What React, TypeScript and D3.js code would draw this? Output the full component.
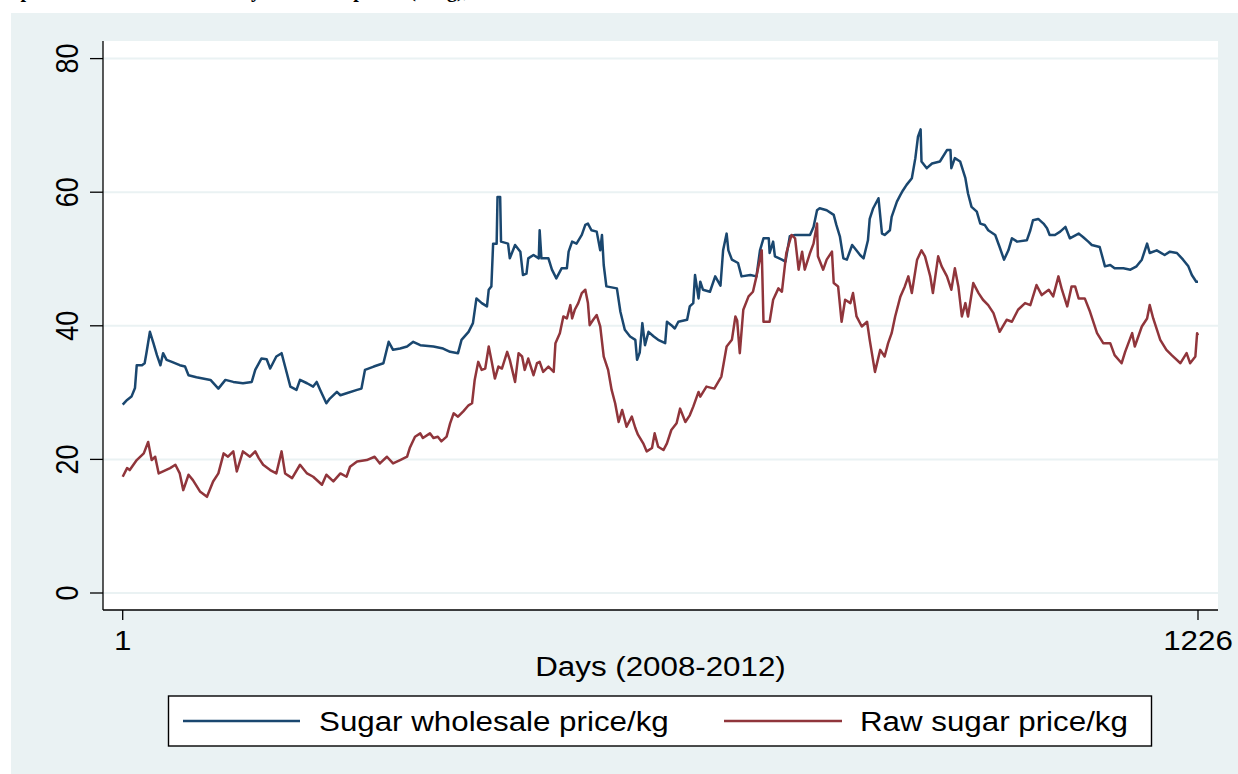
import React from "react";
import * as d3 from "d3";

// Daily prices, [day, price per kg]
const wholesale: [number, number][] = [
  [1, 28.2], [6, 28.9], [11, 29.4], [15, 30.7], [17, 34.1], [23, 34.1], [26, 34.4], [28, 35.9],
  [32, 39.1], [36, 37.4], [40, 35.6], [44, 34.1], [47, 35.9], [51, 34.9], [57, 34.6], [66, 34.1],
  [72, 33.9], [76, 32.6], [85, 32.3], [101, 31.9], [110, 30.6], [118, 31.9], [127, 31.6], [138, 31.4],
  [148, 31.6], [152, 33.4], [159, 35.1], [165, 35.0], [169, 33.6], [176, 35.4], [182, 35.9], [186, 33.9],
  [192, 30.9], [199, 30.4], [203, 31.9], [211, 31.4], [218, 30.9], [222, 31.6], [226, 30.4], [233, 28.4],
  [237, 29.1], [245, 30.1], [249, 29.6], [256, 29.9], [268, 30.4], [273, 30.6], [277, 33.4], [287, 33.9],
  [298, 34.4], [304, 37.6], [309, 36.4], [317, 36.6], [325, 36.9], [332, 37.6], [340, 37.1], [355, 36.9],
  [366, 36.6], [374, 36.1], [383, 35.9], [387, 37.9], [395, 39.1], [400, 40.4], [404, 44.1], [410, 43.4],
  [416, 42.9], [418, 45.4], [421, 45.9], [423, 52.3], [427, 52.3], [428, 59.3], [431, 59.3], [432, 52.6],
  [440, 52.3], [442, 50.1], [448, 52.1], [454, 51.1], [457, 47.6], [461, 47.8], [463, 50.1], [469, 50.6],
  [475, 50.1], [476, 54.3], [478, 50.1], [486, 50.1], [490, 48.4], [495, 47.1], [501, 48.6], [507, 48.6],
  [509, 51.1], [513, 52.6], [518, 52.3], [524, 53.6], [528, 55.1], [531, 55.3], [535, 54.3], [541, 54.1],
  [545, 51.3], [547, 53.6], [549, 49.1], [552, 45.9], [564, 45.6], [568, 42.1], [573, 39.4], [579, 38.4],
  [585, 37.9], [587, 34.9], [590, 36.0], [593, 40.4], [596, 37.1], [600, 39.1], [606, 38.4], [611, 37.9],
  [619, 37.4], [621, 40.6], [626, 40.1], [630, 39.6], [634, 40.6], [644, 40.9], [647, 42.9], [651, 43.4],
  [653, 47.6], [657, 44.1], [659, 46.6], [662, 45.4], [670, 45.1], [676, 47.4], [682, 46.0], [685, 51.3],
  [689, 53.8], [691, 51.3], [695, 49.9], [702, 49.4], [706, 47.4], [716, 47.6], [723, 47.4], [727, 51.3],
  [731, 53.1], [737, 53.1], [738, 50.9], [742, 52.6], [744, 50.4], [752, 49.9], [756, 49.6], [761, 53.4],
  [767, 53.6], [784, 53.6], [788, 54.8], [792, 57.3], [795, 57.6], [803, 57.3], [811, 56.6], [814, 55.1],
  [818, 53.4], [822, 50.1], [826, 49.9], [832, 52.1], [835, 51.6], [841, 50.6], [845, 50.1], [850, 52.8],
  [852, 56.0], [856, 57.6], [862, 59.1], [866, 53.8], [869, 53.6], [875, 54.3], [877, 56.3], [883, 58.6],
  [887, 59.6], [890, 60.3], [894, 61.1], [900, 62.1], [904, 65.1], [907, 68.3], [910, 69.4], [911, 64.6],
  [917, 63.6], [923, 64.3], [932, 64.6], [940, 66.3], [944, 66.3], [945, 63.6], [949, 65.1], [955, 64.6],
  [961, 62.1], [964, 59.8], [968, 57.8], [974, 57.1], [978, 55.3], [983, 55.1], [987, 54.3], [995, 53.6],
  [1000, 51.8], [1005, 49.9], [1010, 51.3], [1014, 53.1], [1020, 52.6], [1031, 52.8], [1035, 54.3], [1038, 55.8],
  [1044, 56.0], [1050, 55.3], [1054, 54.6], [1057, 53.6], [1063, 53.6], [1069, 54.1], [1075, 54.8], [1080, 53.1],
  [1090, 53.8], [1095, 53.3], [1101, 52.6], [1105, 52.1], [1114, 51.8], [1120, 48.9], [1126, 49.1], [1131, 48.6],
  [1141, 48.6], [1149, 48.4], [1156, 48.9], [1162, 49.9], [1168, 52.3], [1171, 50.9], [1179, 51.3], [1188, 50.6],
  [1194, 51.1], [1202, 50.9], [1209, 49.9], [1215, 48.9], [1219, 47.6], [1224, 46.6], [1226, 46.6],
];

const raw: [number, number][] = [
  [1, 17.4], [6, 18.7], [9, 18.4], [17, 19.9], [25, 20.9], [30, 22.6], [34, 19.9], [38, 20.4],
  [42, 17.9], [47, 18.2], [55, 18.7], [61, 19.2], [66, 17.9], [70, 15.4], [76, 17.7], [81, 16.9],
  [89, 15.2], [97, 14.4], [104, 16.7], [110, 17.9], [116, 20.9], [121, 20.4], [127, 21.2], [131, 18.2],
  [138, 21.2], [146, 20.4], [152, 21.2], [156, 20.2], [161, 19.2], [169, 18.4], [176, 17.9], [182, 21.2],
  [186, 17.9], [194, 17.2], [203, 19.2], [211, 17.9], [218, 17.4], [228, 16.2], [233, 17.7], [241, 16.7],
  [249, 17.9], [256, 17.4], [260, 18.9], [268, 19.7], [279, 19.9], [288, 20.4], [294, 19.4], [302, 20.4],
  [309, 19.4], [317, 19.9], [325, 20.4], [328, 21.7], [334, 23.4], [340, 23.9], [343, 23.2], [351, 23.9],
  [355, 23.2], [360, 23.4], [364, 22.7], [370, 23.4], [374, 25.4], [378, 26.9], [383, 26.4], [389, 27.2],
  [395, 28.1], [399, 28.4], [402, 31.9], [406, 34.6], [410, 33.4], [414, 33.6], [418, 36.9], [421, 34.9],
  [425, 32.1], [429, 33.9], [433, 33.6], [439, 36.1], [442, 34.9], [448, 31.6], [452, 35.9], [456, 35.4],
  [459, 33.4], [463, 35.1], [469, 32.6], [473, 34.4], [476, 34.6], [480, 33.1], [486, 33.9], [492, 33.1],
  [494, 37.4], [499, 38.9], [503, 41.4], [507, 41.1], [511, 43.1], [513, 41.1], [516, 42.4], [520, 43.4],
  [524, 44.9], [528, 45.4], [531, 43.4], [533, 40.1], [537, 40.9], [541, 41.6], [545, 39.9], [549, 35.4],
  [554, 33.4], [558, 30.4], [562, 28.4], [566, 25.6], [570, 27.4], [575, 24.9], [581, 26.4], [585, 24.7],
  [588, 23.7], [594, 22.4], [598, 21.2], [604, 21.7], [607, 23.9], [611, 21.9], [617, 21.4], [621, 22.4],
  [626, 24.4], [632, 25.4], [636, 27.6], [642, 25.6], [647, 26.6], [651, 27.9], [657, 30.1], [659, 29.4],
  [666, 30.9], [675, 30.6], [683, 32.4], [689, 36.9], [695, 37.9], [699, 41.4], [701, 40.8], [704, 35.9],
  [708, 42.4], [714, 44.4], [719, 45.1], [723, 47.4], [729, 51.3], [731, 40.6], [738, 40.6], [742, 43.9],
  [748, 45.6], [752, 45.1], [757, 50.9], [763, 53.6], [767, 53.1], [771, 48.4], [775, 51.1], [778, 48.4],
  [784, 50.9], [788, 52.3], [792, 55.3], [793, 50.4], [799, 48.4], [803, 49.9], [809, 51.1], [811, 46.4],
  [816, 45.9], [820, 40.6], [824, 43.9], [830, 43.4], [833, 44.9], [837, 41.4], [843, 39.9], [849, 40.6],
  [852, 37.9], [858, 33.1], [864, 36.4], [869, 35.4], [873, 37.4], [877, 38.9], [881, 41.4], [887, 44.4],
  [892, 45.9], [896, 47.4], [900, 44.9], [906, 49.9], [911, 51.3], [915, 50.4], [921, 47.4], [924, 44.9],
  [930, 50.4], [934, 48.9], [940, 47.4], [945, 45.4], [949, 48.6], [953, 45.9], [957, 41.4], [961, 43.4],
  [964, 41.4], [970, 46.4], [976, 44.9], [981, 43.9], [987, 43.1], [993, 41.9], [1000, 39.1], [1008, 40.9],
  [1014, 40.6], [1021, 42.4], [1029, 43.4], [1035, 43.1], [1042, 46.1], [1048, 44.6], [1056, 45.4], [1061, 44.4],
  [1067, 47.4], [1071, 45.4], [1077, 42.9], [1082, 45.9], [1086, 45.9], [1090, 44.1], [1097, 44.1], [1103, 42.1],
  [1111, 38.9], [1118, 37.4], [1126, 37.4], [1131, 35.6], [1139, 34.4], [1143, 36.1], [1151, 38.9], [1154, 36.9],
  [1162, 39.9], [1168, 41.1], [1171, 43.1], [1175, 41.1], [1183, 37.9], [1190, 36.4], [1196, 35.6], [1206, 34.4],
  [1213, 35.9], [1217, 34.4], [1223, 35.4], [1225, 38.9], [1226, 38.6],
];

const yTicks = [0, 20, 40, 60, 80];
const xTicks = [1, 1226];
const seriesNames = ["Sugar wholesale price/kg", "Raw sugar price/kg"];
const seriesColors = ["#1a476f", "#90353b"];

const W = 1238;
const H = 774;
const plot = { left: 103, top: 41, right: 1218, bottom: 610 };
const sans = "'Liberation Sans', Arial, sans-serif";
const stretch = 1.16;
const fs = 27;

export default function App() {
  const x = d3.scaleLinear().domain([1, 1226]).range([122.7, 1198]);
  const y = d3.scaleLinear().domain([0, 80]).range([593, 58.6]);
  const line = d3
    .line<[number, number]>()
    .x((d) => x(d[0]))
    .y((d) => y(d[1]));

  const legendY = 721;

  return (
    <div style={{ position: "absolute", left: 0, top: 0 }}>
      <svg width={W} height={H} style={{ display: "block" }}>
        <rect x={0} y={0} width={W} height={H} fill="#ffffff" />
        <text
          x={-14}
          y={-3.5}
          fontFamily="'Liberation Serif', 'Times New Roman', serif"
          fontWeight="bold"
          fontSize={20}
          fill="#000"
        >
          Graph 1: Movement of the daily wholesale prices (N/kg), 2008-2012
        </text>
        <rect x={11} y={13} width={W - 11} height={H - 13} fill="#eaf2f3" />
        <rect
          x={plot.left}
          y={plot.top}
          width={plot.right - plot.left}
          height={plot.bottom - plot.top}
          fill="#ffffff"
        />
        {yTicks.map((t) => (
          <line
            key={"g" + t}
            x1={plot.left}
            x2={plot.right}
            y1={y(t)}
            y2={y(t)}
            stroke="#eaf2f3"
            strokeWidth={2}
          />
        ))}
        {[0, 1].map((i) => (
          <path
            key={"s" + i}
            d={line(i === 0 ? wholesale : raw) || ""}
            fill="none"
            stroke={seriesColors[i]}
            strokeWidth={2.5}
            strokeLinejoin="round"
          />
        ))}
        <line x1={plot.left} x2={plot.left} y1={plot.top} y2={plot.bottom} stroke="#000" strokeWidth={1.3} />
        <line x1={plot.left} x2={plot.right} y1={plot.bottom} y2={plot.bottom} stroke="#000" strokeWidth={1.3} />
        {yTicks.map((t) => (
          <g key={"y" + t}>
            <line x1={90} x2={plot.left} y1={y(t)} y2={y(t)} stroke="#000" strokeWidth={1.3} />
            <text
              transform={`translate(78,${y(t)}) scale(${stretch},1) rotate(-90)`}
              textAnchor="middle"
              fontFamily={sans}
              fontSize={fs}
              fill="#000"
            >
              {t}
            </text>
          </g>
        ))}
        {xTicks.map((t) => (
          <g key={"x" + t}>
            <line x1={x(t)} x2={x(t)} y1={plot.bottom} y2={620} stroke="#000" strokeWidth={1.3} />
            <text
              transform={`translate(${x(t)},650) scale(${stretch},1)`}
              textAnchor="middle"
              fontFamily={sans}
              fontSize={fs}
              fill="#000"
            >
              {t}
            </text>
          </g>
        ))}
        <text
          transform={`translate(${(plot.left + plot.right) / 2},676) scale(${stretch},1)`}
          textAnchor="middle"
          fontFamily={sans}
          fontSize={fs}
          fill="#000"
        >
          Days (2008-2012)
        </text>
        <rect x={168.5} y={696} width={983} height={50} fill="#ffffff" stroke="#000" strokeWidth={1.4} />
        {[
          { x1: 183, x2: 300, tx: 319 },
          { x1: 724, x2: 842, tx: 860 },
        ].map((e, i) => (
          <g key={"l" + i}>
            <line x1={e.x1} x2={e.x2} y1={legendY} y2={legendY} stroke={seriesColors[i]} strokeWidth={2.5} />
            <text
              transform={`translate(${e.tx},${legendY + 9.5}) scale(${stretch},1)`}
              fontFamily={sans}
              fontSize={fs}
              fill="#000"
            >
              {seriesNames[i]}
            </text>
          </g>
        ))}
      </svg>
    </div>
  );
}
